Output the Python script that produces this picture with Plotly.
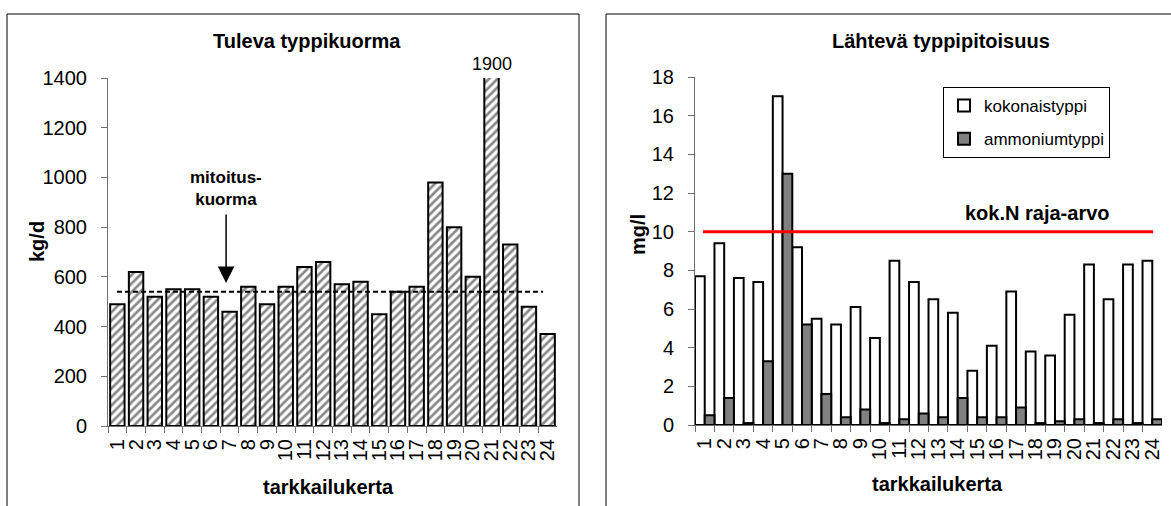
import plotly.graph_objects as go

# ---------------- data ----------------
categories = ["1", "2", "3", "4", "5", "6", "7", "8", "9", "10", "11", "12",
              "13", "14", "15", "16", "17", "18", "19", "20", "21", "22", "23", "24"]
tuleva_kuorma = [490, 620, 520, 550, 550, 520, 460, 560, 490, 560, 640, 660,
                 570, 580, 450, 540, 560, 980, 800, 600, 1900, 730, 480, 370]
kokonaistyppi = [7.7, 9.4, 7.6, 7.4, 17.0, 9.2, 5.5, 5.2, 6.1, 4.5, 8.5, 7.4,
                 6.5, 5.8, 2.8, 4.1, 6.9, 3.8, 3.6, 5.7, 8.3, 6.5, 8.3, 8.5]
ammoniumtyppi = [0.5, 1.4, 0.1, 3.3, 13.0, 5.2, 1.6, 0.4, 0.8, 0.1, 0.3, 0.6,
                 0.4, 1.4, 0.4, 0.4, 0.9, 0.1, 0.2, 0.3, 0.1, 0.3, 0.1, 0.3]
mitoituskuorma = 540
raja_arvo = 10
left_ticks = [0, 200, 400, 600, 800, 1000, 1200, 1400]
right_ticks = [0, 2, 4, 6, 8, 10, 12, 14, 16, 18]
left_max = 1400
right_max = 18
peak_category = "21"
peak_label = "1900"

FONT = "Liberation Sans, Arial, sans-serif"
W, H = 1171, 506

def px(x):
    return x / W

def py(y):
    return 1 - y / H

fig = go.Figure()

# left chart: hatched bars
fig.add_trace(go.Bar(
    x=categories, y=tuleva_kuorma, xaxis="x", yaxis="y",
    width=0.77, showlegend=False,
    marker=dict(color="white",
                line=dict(color="black", width=2),
                pattern=dict(shape="/", fgcolor="#111111", bgcolor="white",
                             size=6, solidity=0.45)),
))

# right chart: grouped bars
fig.add_trace(go.Bar(
    x=categories, y=kokonaistyppi, xaxis="x2", yaxis="y2",
    name="kokonaistyppi", legendgroup="a",
    offset=-0.5, width=0.5,
    marker=dict(color="white", line=dict(color="black", width=2)),
))
fig.add_trace(go.Bar(
    x=categories, y=ammoniumtyppi, xaxis="x2", yaxis="y2",
    name="ammoniumtyppi", legendgroup="b",
    offset=0.0, width=0.5,
    marker=dict(color="#808080", line=dict(color="black", width=2)),
))

axis_col = "#707070"
common_x = dict(type="category", range=[-0.5, 23.5], tickson="boundaries",
                tickmode="array", tickvals=categories, ticktext=categories,
                ticks="outside", ticklen=6, tickcolor=axis_col, tickwidth=1,
                showline=True, linecolor=axis_col, linewidth=1,
                tickangle=-90, showgrid=False, zeroline=False,
                tickfont=dict(family=FONT, size=20, color="black"),
                ticklabelstandoff=4, automargin=False)
common_y = dict(ticks="outside", ticklen=6, tickcolor=axis_col, tickwidth=1,
                showline=True, linecolor=axis_col, linewidth=1,
                showgrid=False, zeroline=False,
                tickfont=dict(family=FONT, size=20, color="black"),
                ticklabelstandoff=10, automargin=False)

fig.update_layout(
    width=W, height=H,
    margin=dict(l=0, r=0, t=0, b=0, pad=0, autoexpand=False),
    paper_bgcolor="white", plot_bgcolor="white",
    barmode="overlay",
    font=dict(family=FONT, color="black"),
    xaxis=dict(domain=[px(108), px(557)], anchor="y", **common_x),
    yaxis=dict(domain=[py(426), py(78)], anchor="x", range=[0, left_max],
               tickvals=left_ticks, **common_y),
    xaxis2=dict(domain=[px(695), px(1162)], anchor="y2", **common_x),
    yaxis2=dict(domain=[py(425), py(77)], anchor="x2", range=[0, right_max],
                tickvals=right_ticks, **common_y),
    legend=dict(x=px(943), y=py(87), xanchor="left", yanchor="top",
                bordercolor="black", borderwidth=1, bgcolor="white",
                font=dict(family=FONT, size=17, color="black"),
                traceorder="grouped", tracegroupgap=8, itemwidth=30),
    showlegend=True,
)

# panel frames
fig.add_shape(type="rect", xref="paper", yref="paper",
              x0=px(7), x1=px(579), y0=-0.2, y1=py(14),
              line=dict(color="black", width=1), fillcolor="rgba(0,0,0,0)", layer="below")
fig.add_shape(type="rect", xref="paper", yref="paper",
              x0=px(606), x1=1.2, y0=-0.2, y1=py(14),
              line=dict(color="black", width=1), fillcolor="rgba(0,0,0,0)", layer="below")

# reference lines
fig.add_shape(type="line", xref="x domain", yref="y",
              x0=0.02, x1=0.969, y0=mitoituskuorma, y1=mitoituskuorma,
              line=dict(color="black", width=2, dash="5px,3px"))
fig.add_shape(type="line", xref="x2 domain", yref="y2",
              x0=0.017, x1=0.981, y0=raja_arvo, y1=raja_arvo,
              line=dict(color="#FF0000", width=3))

def note(text, x, y, size, xref="paper", yref="paper", angle=0, bold=True):
    t = "<b>%s</b>" % text if bold else text
    return dict(text=t, xref=xref, yref=yref, x=x, y=y, showarrow=False,
                xanchor="center", yanchor="middle", textangle=angle,
                font=dict(size=size, family=FONT, color="black"))

peak_index = categories.index(peak_category)

ann = [
    note("Tuleva typpikuorma", px(307), py(41), 20),
    note("Lähtevä typpipitoisuus", px(941), py(41), 20),
    note("tarkkailukerta", px(328), py(487), 20),
    note("tarkkailukerta", px(937), py(484), 20),
    note("kg/d", px(37), py(242), 20, angle=-90),
    note("mg/l", px(638), py(235), 20, angle=-90),
    note(peak_label, peak_index, py(64), 18, xref="x", bold=False),
    note("mitoitus-<br>kuorma", 0.263, py(188), 17, xref="x domain"),
    note("kok.N raja-arvo", px(1037), py(213), 20),
    dict(text="", xref="x domain", yref="y", x=0.263, y=575,
         showarrow=True, ax=0, ay=-70, arrowhead=2, arrowsize=2.2,
         arrowwidth=1.5, arrowcolor="black"),
]
fig.update_layout(annotations=ann)

fig.write_html("out.html")
